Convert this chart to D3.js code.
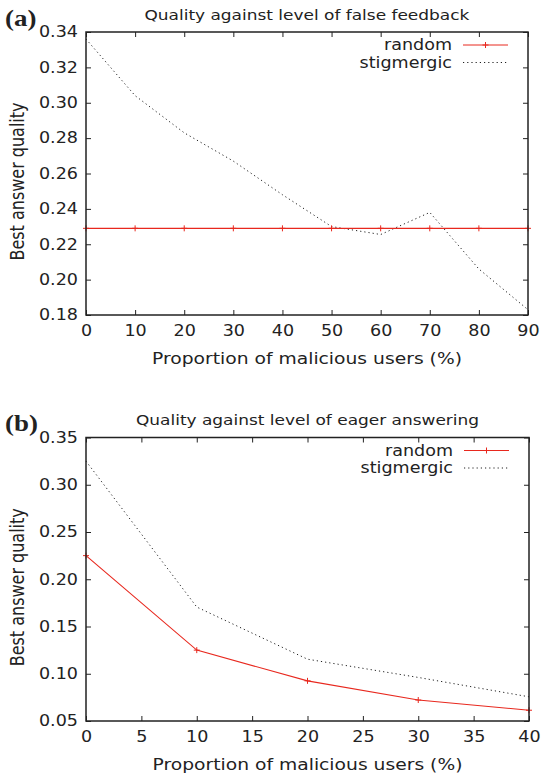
<!DOCTYPE html>
<html>
<head>
<meta charset="utf-8">
<script src="https://cdn.jsdelivr.net/npm/d3@7"></script>
<style>
  body { margin: 0; background: #fff; }
  svg text { font-family: "DejaVu Sans", Verdana, sans-serif; fill: #222; }
  /* the source picture is a bit stretched sideways */
  .sx { transform-box: fill-box; transform: scaleX(1.17); }
  .sx-mid { transform-origin: center center; }
  .sx-end { transform-origin: right center; }
  .sx-start { transform-origin: left center; }
</style>
</head>
<body>
<div id="chart"></div>
<script>
// panel (a): quality against level of false feedback
var xA = [0, 10, 20, 30, 40, 50, 60, 70, 80, 90];
var randomA = [0.229, 0.229, 0.229, 0.229, 0.229, 0.229, 0.229, 0.229, 0.229, 0.229];
var stigA = [0.336, 0.304, 0.283, 0.267, 0.248, 0.230, 0.2255, 0.238, 0.206, 0.183];
var yTicksA = [0.18, 0.20, 0.22, 0.24, 0.26, 0.28, 0.30, 0.32, 0.34];

// panel (b): quality against level of eager answering
var xB = [0, 10, 20, 30, 40];
var randomB = [0.225, 0.125, 0.0925, 0.0722, 0.0614];
var stigB = [0.325, 0.1706, 0.1154, 0.0961, 0.0756];
var xTicksB = [0, 5, 10, 15, 20, 25, 30, 35, 40];
var yTicksB = [0.05, 0.10, 0.15, 0.20, 0.25, 0.30, 0.35];

var seriesNames = ["random", "stigmergic"];

var svg = d3.select("#chart")
  .append("svg")
    .attr("width", 547)
    .attr("height", 779);

function drawPanel(opt) {
  var g = svg.append("g");
  var x = d3.scaleLinear().domain(opt.xDomain).range([opt.left, opt.right]);
  var y = d3.scaleLinear().domain(opt.yDomain).range([opt.bottom, opt.top]);

  // bottom and left axes (ticks point inward)
  g.append("g")
    .attr("transform", "translate(0," + opt.bottom + ")")
    .call(d3.axisBottom(x).tickValues(opt.xTicks).tickSizeInner(-5).tickSizeOuter(0).tickPadding(10)
      .tickFormat(d3.format("d")))
    .call(function(a) { a.select(".domain").remove(); })
    .selectAll("text").attr("class", "sx sx-mid").style("font-size", "15px").attr("fill", "#222");

  g.append("g")
    .attr("transform", "translate(" + opt.left + ",0)")
    .call(d3.axisLeft(y).tickValues(opt.yTicks).tickSizeInner(-5).tickSizeOuter(0).tickPadding(8)
      .tickFormat(d3.format(".2f")))
    .call(function(a) { a.select(".domain").remove(); })
    .selectAll("text").attr("class", "sx sx-end").style("font-size", "15px").attr("fill", "#222");

  // mirrored ticks top and right
  g.append("g")
    .attr("transform", "translate(0," + opt.top + ")")
    .call(d3.axisTop(x).tickValues(opt.xTicks).tickSizeInner(-5).tickSizeOuter(0).tickFormat(""))
    .call(function(a) { a.select(".domain").remove(); });
  g.append("g")
    .attr("transform", "translate(" + opt.right + ",0)")
    .call(d3.axisRight(y).tickValues(opt.yTicks).tickSizeInner(-5).tickSizeOuter(0).tickFormat(""))
    .call(function(a) { a.select(".domain").remove(); });

  g.selectAll(".tick line").attr("stroke", "#222");

  // lines
  var line = d3.line()
    .x(function(d) { return x(d[0]); })
    .y(function(d) { return y(d[1]); });

  var rnd = opt.xs.map(function(v, i) { return [v, opt.random[i]]; });
  var stg = opt.xs.map(function(v, i) { return [v, opt.stig[i]]; });

  g.append("path").datum(stg)
    .attr("d", line)
    .attr("fill", "none")
    .attr("stroke", "#222")
    .attr("stroke-width", 1)
    .attr("stroke-dasharray", "1.2,3");

  g.append("path").datum(rnd)
    .attr("d", line)
    .attr("fill", "none")
    .attr("stroke", "#e8281e")
    .attr("stroke-width", 1.1);

  // + markers
  g.selectAll(".mk").data(rnd).enter()
    .append("path")
    .attr("d", function(d) {
      var cx = x(d[0]), cy = y(d[1]);
      return "M" + (cx - 3) + "," + cy + "H" + (cx + 3) + "M" + cx + "," + (cy - 3) + "V" + (cy + 3);
    })
    .attr("stroke", "#e8281e")
    .attr("stroke-width", 1);

  // frame
  g.append("rect")
    .attr("x", opt.left).attr("y", opt.top)
    .attr("width", opt.right - opt.left).attr("height", opt.bottom - opt.top)
    .attr("fill", "none").attr("stroke", "#222").attr("stroke-width", 1.5);

  // legend
  var lx = opt.right - 76;
  seriesNames.forEach(function(name, i) {
    var ly = opt.top + 13 + i * 17.5;
    g.append("text").attr("x", lx).attr("y", ly).attr("dy", "0.35em")
      .attr("class", "sx sx-end")
      .attr("text-anchor", "end").style("font-size", "15px").text(name);
    var ln = g.append("line")
      .attr("x1", opt.right - 65).attr("x2", opt.right - 20)
      .attr("y1", ly).attr("y2", ly)
      .attr("stroke-width", 1);
    if (i === 0) {
      ln.attr("stroke", "#e8281e");
      var mx = opt.right - 42.5;
      g.append("path")
        .attr("d", "M" + (mx - 3) + "," + ly + "H" + (mx + 3) + "M" + mx + "," + (ly - 3) + "V" + (ly + 3))
        .attr("stroke", "#e8281e");
    } else {
      ln.attr("stroke", "#222").attr("stroke-dasharray", "1.2,3");
    }
  });

  // titles
  g.append("text")
    .attr("x", (opt.left + opt.right) / 2).attr("y", opt.top - 12)
    .attr("class", "sx sx-mid")
    .attr("text-anchor", "middle").style("font-size", "14.5px").text(opt.title);

  g.append("text")
    .attr("x", (opt.left + opt.right) / 2).attr("y", opt.bottom + 49)
    .attr("class", "sx sx-mid")
    .attr("text-anchor", "middle").style("font-size", "16px")
    .text("Proportion of malicious users (%)");

  g.append("g")
    .attr("transform", "translate(24," + ((opt.top + opt.bottom) / 2 + 8) + ") scale(1.17,1) rotate(-90)")
    .append("text")
    .attr("text-anchor", "middle").style("font-size", "16px")
    .text("Best answer quality");

  g.append("text")
    .attr("x", 5).attr("y", opt.top - 6)
    .attr("class", "sx sx-start")
    .style("font-family", "'Liberation Serif', 'Times New Roman', serif")
    .style("font-weight", "bold").style("font-size", "23px")
    .text(opt.tag);
}

drawPanel({
  left: 86, right: 528, top: 32, bottom: 315,
  xDomain: [0, 90], yDomain: [0.18, 0.34],
  xTicks: xA, yTicks: yTicksA,
  xs: xA, random: randomA, stig: stigA,
  title: "Quality against level of false feedback", tag: "(a)"
});

drawPanel({
  left: 86, right: 529, top: 437.5, bottom: 721,
  xDomain: [0, 40], yDomain: [0.05, 0.35],
  xTicks: xTicksB, yTicks: yTicksB,
  xs: xB, random: randomB, stig: stigB,
  title: "Quality against level of eager answering", tag: "(b)"
});
</script>
</body>
</html>
